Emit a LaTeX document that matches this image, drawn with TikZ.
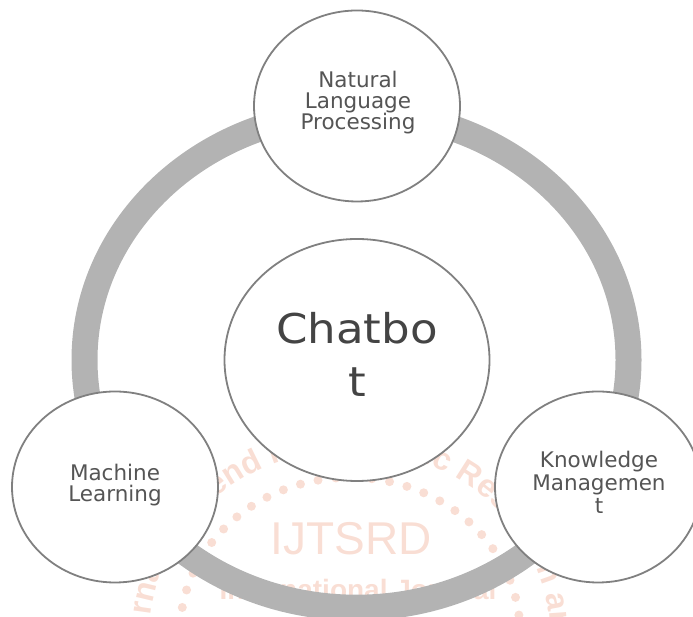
\documentclass[tikz,border=0pt]{standalone}
\usepackage{fontspec}
\setmainfont{DejaVu Sans}
\newfontfamily\wmfont{Liberation Sans}
\usetikzlibrary{shapes.geometric,decorations.text}
\definecolor{ringgray}{RGB}{179,179,179}
\definecolor{edgegray}{RGB}{128,128,128}
\definecolor{txtgray}{RGB}{85,85,85}
\definecolor{chatgray}{RGB}{68,68,68}
\definecolor{wm}{RGB}{249,222,212}
\newcommand\wmstyle{\color{wm}\wmfont\bfseries\fontsize{32}{32}\selectfont}
\begin{document}
\begin{tikzpicture}[x=1pt,y=1pt,
  bubble/.style={ellipse, draw=edgegray, line width=1.8pt, fill=white, inner sep=0pt},
  smallbubble/.style={bubble, minimum width=206pt, minimum height=191pt},
  lbl/.style={align=center, text=txtgray, inner sep=0pt, font=\fontsize{21.5}{21.5}\selectfont},
  chatlbl/.style={align=center, text=chatgray, inner sep=0pt, font=\fontsize{41}{53.4}\selectfont},
  wmtext/.style={text=wm, inner sep=0pt, anchor=base},
  ringstyle/.style={draw=ringgray, line width=26pt}
  ]
\useasboundingbox (0,0) rectangle (693,617);
% faint watermark seal
\begin{scope}[shift={(350,-16)}, yscale=0.915]
  \draw[wm, line width=9pt, line cap=round, dash pattern=on 0pt off 18pt] (0,0) circle[radius=170];
  \path[decorate, decoration={text along path, text align=left,
      text={|\wmstyle|International Journal of Trend in Scientific Research and Development}}]
      (252.7:200) arc[start angle=252.7, end angle=-100, radius=200];
\end{scope}
\node[wmtext, font=\wmfont\fontsize{46}{46}\selectfont] (wmA) at (351,62) {IJTSRD};
\node[wmtext, font=\wmfont\bfseries\fontsize{28}{28}\selectfont] (wmB) at (358,17) {International Journal};
% ring
\draw[ringstyle] (356.5,257) ellipse[x radius=272, y radius=247.7];
% circles
\node[bubble, minimum width=265pt, minimum height=242pt] (chat) at (357,257) {};
\node[smallbubble] (nlp) at (357,511) {};
\node[smallbubble] (ml) at (115,130) {};
\node[smallbubble] (km) at (598,130) {};
% labels
\node[chatlbl] (chatt) at (357,262.6) {\scalebox{1.1}[1]{Chatbo}\\\scalebox{1.1}[1]{t}};
\node[lbl, font=\fontsize{21.5}{21}\selectfont] (nlpt) at (358,514.2) {Natural\\Language\\Processing};
\node[lbl] (mlt) at (115,131.75) {Machine\\Learning};
\node[lbl, font=\fontsize{21.5}{23}\selectfont] (kmt) at (599,134.7) {Knowledge\\Managemen\\t};
\end{tikzpicture}
\end{document}
